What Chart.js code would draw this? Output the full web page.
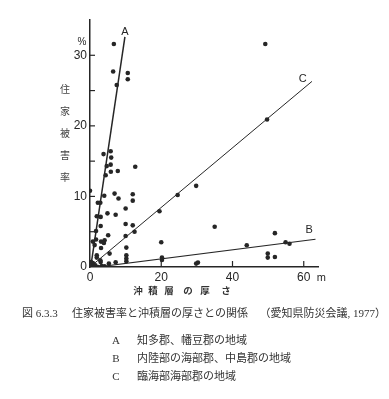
<!DOCTYPE html>
<html>
<head>
<meta charset="utf-8">
<script src="https://cdn.jsdelivr.net/npm/chart.js@4.4.1/dist/chart.umd.min.js"></script>
<style>
html,body{margin:0;padding:0;background:#fff;}
canvas{display:block;}
</style>
</head>
<body>
<canvas id="c" width="389" height="399"></canvas>
<script>
// ---- data ----
const pointX = [6.7,6.5,10.6,10.6,7.5,49.2,49.7,29.8,24.6,19.5,35.0,51.9,44.0,54.9,56.0,49.9,49.9,51.9,29.8,30.3,20.0,20.2,20.2,
  0,3.8,5.8,5.95,4.7,5.8,5.85,7.8,4.4,12.7,6.9,8.0,4.0,12.0,12.0,2.2,2.9,10.0,4.9,7.2,1.9,3.0,3.0,1.7,10.0,12.0,12.5,5.1,10.0,1.7,0.8,3.1,4.1,3.9,1.3,3.1,10.2,5.5,1.9,10.2,10.2,10.2,1.9,3.0,5.3,7.2,1.5,0.4,1.0,2.3,4.1,0.8,0.3,2.9,3.3];
const pointY = [31.6,27.7,27.5,26.6,25.8,31.6,20.9,11.5,10.2,7.9,5.7,4.8,3.08,3.5,3.3,1.9,1.33,1.42,0.48,0.62,3.5,1.33,1.0,
  10.8,16.0,16.4,15.5,14.3,14.5,13.5,13.6,13.0,14.2,10.4,9.7,10.1,10.3,9.4,9.1,9.1,8.3,7.6,7.4,7.2,7.1,5.8,5.1,6.1,5.9,5.0,4.5,4.4,3.9,3.6,3.6,3.8,3.4,3.1,2.7,2.75,1.9,1.66,1.66,1.19,0.8,1.33,0.7,0.48,0.67,0.24,0.1,0,0,0.1,0.57,0.7,0.95,0.14];
const lineA = [{x:0.2,y:0},{x:9.8,y:32.6}];
const lineB = [{x:2.0,y:0},{x:63.3,y:3.93}];
const lineC = [{x:0,y:0},{x:62.3,y:26.3}];
const lineNames = ['A','B','C'];
const xTicks = [0,20,40,60];
const yTicks = [0,10,20,30];
const yMinorTicks = [5,15,25];
const xUnit = 'm';
const yUnit = '%';
const yTitle = ['住','家','被','害','率'];
const xTitle = ['沖','積','層','の','厚','さ'];
const caption = ['図 6.3.3','住家被害率と沖積層の厚さとの関係','（愛知県防災会議, 1977）'];
const legendKeys = ['A','B','C'];
const legendTexts = ['知多郡、幡豆郡の地域','内陸部の海部郡、中島郡の地域','臨海部海部郡の地域'];

const pts = pointX.map((x,i)=>({x:x,y:pointY[i]}));
const INK = '#262626';

const decor = {
  id:'decor',
  afterDraw(chart){
    const ctx = chart.ctx, xs = chart.scales.x, ys = chart.scales.y;
    const x0 = xs.getPixelForValue(0), y0 = ys.getPixelForValue(0);
    ctx.save();
    ctx.strokeStyle = INK; ctx.lineWidth = 1.2;
    // inward ticks
    yTicks.concat(yMinorTicks).forEach(v=>{
      if(v===0) return;
      const p = ys.getPixelForValue(v);
      ctx.beginPath(); ctx.moveTo(x0-1, p); ctx.lineTo(x0+5, p); ctx.stroke();
    });
    xTicks.forEach(v=>{
      if(v===0) return;
      const p = xs.getPixelForValue(v);
      ctx.beginPath(); ctx.moveTo(p, y0); ctx.lineTo(p, y0-6); ctx.stroke();
    });
    ctx.fillStyle = INK;
    // line labels
    ctx.font = '11px "Liberation Sans", sans-serif';
    ctx.textAlign='center'; ctx.textBaseline='middle';
    ctx.fillText(lineNames[0], xs.getPixelForValue(lineA[1].x), ys.getPixelForValue(lineA[1].y)-5);
    ctx.fillText(lineNames[1], xs.getPixelForValue(61.5), ys.getPixelForValue(5.3));
    ctx.fillText(lineNames[2], xs.getPixelForValue(59.7), ys.getPixelForValue(26.6));
    // units
    ctx.font = '10px "Liberation Sans", sans-serif';
    ctx.fillText(yUnit, x0-8, ys.getPixelForValue(35)+22);
    ctx.font = '11px "Liberation Sans", sans-serif';
    ctx.textAlign='left'; ctx.textBaseline='top';
    ctx.fillText(xUnit, xs.getPixelForValue(60)+13, y0+5);
    // y title
    ctx.font = '10px "Noto Sans CJK JP", sans-serif';
    ctx.fillStyle = '#444';
    ctx.textAlign='center'; ctx.textBaseline='middle';
    yTitle.forEach((ch,i)=>ctx.fillText(ch, 65, 89 + i*22));
    // x title
    ctx.font = 'bold 9.5px "Noto Sans CJK JP", sans-serif';
    ctx.fillStyle = '#333';
    const xpos = [138,153,169,188,205,226];
    xTitle.forEach((ch,i)=>ctx.fillText(ch, xpos[i], 290));
    // caption
    ctx.fillStyle = '#333';
    ctx.font = '11px "Liberation Serif", "Noto Sans CJK JP", serif';
    ctx.textAlign='left';
    ctx.fillText(caption[0], 22, 314);
    ctx.fillText(caption[1], 72, 314);
    ctx.textAlign='right';
    ctx.fillText(caption[2], 386, 314);
    // legend
    ctx.textAlign='center';
    legendKeys.forEach((k,i)=>ctx.fillText(k, 116, 341 + i*18));
    ctx.textAlign='left';
    legendTexts.forEach((t,i)=>ctx.fillText(t, 137, 341 + i*18));
    ctx.restore();
  }
};

new Chart(document.getElementById('c'), {
  type:'scatter',
  data:{datasets:[
    {data:pts, pointRadius:2.3, pointBackgroundColor:INK, pointBorderWidth:0, showLine:false},
    {data:lineA, showLine:true, borderColor:INK, borderWidth:1.5, pointRadius:0},
    {data:lineB, showLine:true, borderColor:INK, borderWidth:1.2, pointRadius:0},
    {data:lineC, showLine:true, borderColor:INK, borderWidth:1.0, pointRadius:0}
  ]},
  options:{
    responsive:false, animation:false, devicePixelRatio:1,
    layout:{padding:{left:0,top:20,right:71,bottom:110}},
    plugins:{legend:{display:false}, tooltip:{enabled:false}},
    scales:{
      x:{type:'linear', min:0, max:64,
        afterFit(s){s.height=22;},
        grid:{display:false, drawTicks:false},
        border:{display:true, color:INK, width:1.5},
        ticks:{stepSize:20, includeBounds:false, padding:3, color:INK, maxRotation:0,
          font:{family:'"Liberation Sans", sans-serif', size:12}}
      },
      y:{type:'linear', min:0, max:35,
        afterFit(s){s.width=90;},
        grid:{display:false, drawTicks:false},
        border:{display:true, color:INK, width:1.5},
        ticks:{stepSize:10, includeBounds:false, padding:3, color:INK,
          font:{family:'"Liberation Sans", sans-serif', size:12}}
      }
    }
  },
  plugins:[decor]
});
</script>
</body>
</html>
